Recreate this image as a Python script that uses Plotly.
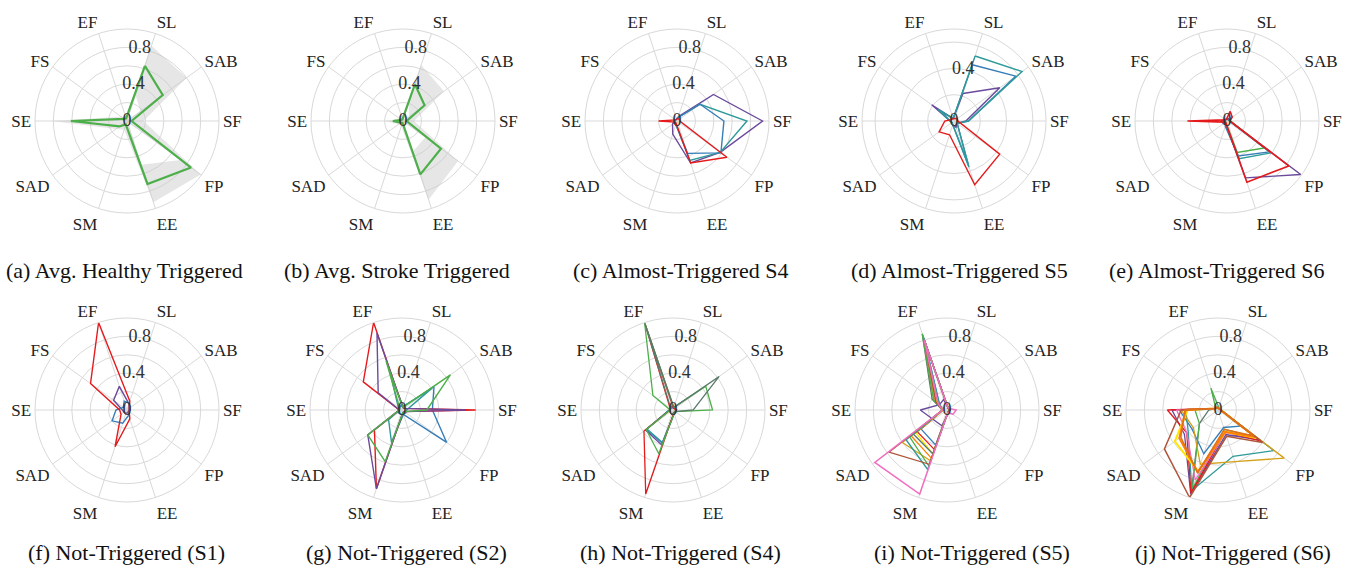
import plotly.graph_objects as go

# Spokes, listed clockwise starting from SL
CATEGORIES = ["SL", "SAB", "SF", "FP", "EE", "SM", "SAD", "SE", "FS", "EF"]
ANGLES = [36 * i for i in range(len(CATEGORIES))]   # degrees, clockwise from SL
LABEL_ANGLE = -8                                    # where the r labels sit

RED = "#e41a1c"
BLUE = "#377eb8"
GREEN = "#4daf4a"
PURPLE = "#6a4a9c"
TEAL = "#2f9a9a"
ORANGE = "#ff7f00"
YELLOW = "#ffe600"
BROWN = "#b0553a"
PINK = "#f070c0"
GOLD = "#d4a017"
SLATE = "#5a7a6a"
DKORANGE = "#e0701a"

# (a) average healthy, triggered: mean with spread band
a_mean = [0.63, 0.48, 0.05, 0.86, 0.72, 0.04, 0.10, 0.61, 0.04, 0.03]
a_upper = [0.86, 0.80, 0.18, 0.99, 0.93, 0.10, 0.15, 0.82, 0.08, 0.05]
a_lower = [0.30, 0.18, 0.00, 0.72, 0.50, 0.00, 0.02, 0.38, 0.00, 0.00]

# (b) average stroke, triggered
b_mean = [0.42, 0.29, 0.04, 0.51, 0.61, 0.02, 0.03, 0.11, 0.02, 0.02]
b_upper = [0.64, 0.55, 0.12, 0.74, 0.90, 0.06, 0.06, 0.20, 0.04, 0.04]
b_lower = [0.20, 0.08, 0.00, 0.30, 0.35, 0.00, 0.00, 0.02, 0.00, 0.00]

# (c) almost-triggered S4
c_purple = [0.05, 0.49, 0.93, 0.58, 0.48, 0.15, 0.06, 0.03, 0.02, 0.02]
c_teal = [0.04, 0.31, 0.76, 0.58, 0.45, 0.04, 0.03, 0.03, 0.02, 0.02]
c_blue = [0.04, 0.31, 0.51, 0.59, 0.37, 0.04, 0.03, 0.03, 0.02, 0.02]
c_red = [0.03, 0.03, 0.03, 0.67, 0.48, 0.03, 0.02, 0.20, 0.02, 0.02]

# (d) almost-triggered S5 (radial limit 0.7)
d_purple = [0.22, 0.43, 0.09, 0.03, 0.05, 0.03, 0.02, 0.03, 0.21, 0.02]
d_blue = [0.45, 0.58, 0.11, 0.03, 0.36, 0.03, 0.02, 0.03, 0.12, 0.02]
d_teal = [0.52, 0.64, 0.11, 0.03, 0.37, 0.03, 0.02, 0.03, 0.15, 0.02]
d_red = [0.02, 0.03, 0.03, 0.43, 0.51, 0.11, 0.14, 0.07, 0.02, 0.02]

# (e) almost-triggered S6
e_green = [0.02, 0.02, 0.04, 0.50, 0.36, 0.03, 0.02, 0.03, 0.02, 0.02]
e_blue = [0.02, 0.02, 0.03, 0.57, 0.40, 0.06, 0.02, 0.03, 0.02, 0.02]
e_teal = [0.02, 0.02, 0.03, 0.59, 0.43, 0.05, 0.02, 0.03, 0.02, 0.02]
e_purple = [0.03, 0.03, 0.03, 0.99, 0.65, 0.04, 0.05, 0.06, 0.03, 0.02]
e_red = [0.11, 0.07, 0.03, 0.83, 0.70, 0.03, 0.02, 0.43, 0.02, 0.02]

# (f) not-triggered S1
f_purple = [0.07, 0.03, 0.02, 0.02, 0.03, 0.04, 0.04, 0.05, 0.18, 0.27]
f_blue = [0.08, 0.04, 0.03, 0.03, 0.06, 0.15, 0.20, 0.12, 0.05, 0.10]
f_red = [0.10, 0.03, 0.03, 0.03, 0.10, 0.42, 0.08, 0.08, 0.49, 1.00]

# (g) not-triggered S2
g_blue = [0.04, 0.43, 0.33, 0.60, 0.05, 0.05, 0.05, 0.03, 0.03, 0.05]
g_teal = [0.04, 0.40, 0.05, 0.05, 0.05, 0.37, 0.18, 0.03, 0.05, 0.39]
g_red = [0.03, 0.03, 0.80, 0.03, 0.03, 0.90, 0.37, 0.03, 0.52, 1.00]
g_purple = [0.03, 0.03, 0.69, 0.03, 0.03, 0.90, 0.46, 0.03, 0.32, 0.88]
g_green = [0.03, 0.65, 0.27, 0.03, 0.03, 0.59, 0.46, 0.03, 0.03, 0.56]

# (h) not-triggered S4
h_blue = [0.02, 0.03, 0.03, 0.03, 0.04, 0.38, 0.36, 0.04, 0.03, 0.04]
h_purple = [0.02, 0.03, 0.03, 0.03, 0.04, 0.40, 0.37, 0.04, 0.03, 0.04]
h_teal = [0.02, 0.03, 0.03, 0.03, 0.04, 0.37, 0.35, 0.04, 0.03, 0.04]
h_red = [0.02, 0.02, 0.04, 0.03, 0.03, 0.96, 0.39, 0.03, 0.04, 0.98]
h_green = [0.03, 0.44, 0.43, 0.03, 0.04, 0.50, 0.36, 0.03, 0.27, 1.00]
h_slate = [0.03, 0.62, 0.22, 0.03, 0.03, 0.05, 0.04, 0.03, 0.03, 0.99]

# (i) not-triggered S5
i_purple = [0.03, 0.02, 0.03, 0.03, 0.04, 0.18, 0.18, 0.29, 0.10, 0.12]
i_blue = [0.03, 0.02, 0.03, 0.02, 0.03, 0.40, 0.35, 0.04, 0.10, 0.76]
i_red = [0.03, 0.02, 0.03, 0.02, 0.03, 0.45, 0.40, 0.04, 0.13, 0.80]
i_yellow = [0.03, 0.02, 0.03, 0.02, 0.03, 0.50, 0.42, 0.04, 0.14, 0.76]
i_orange = [0.03, 0.02, 0.03, 0.02, 0.03, 0.55, 0.48, 0.05, 0.15, 0.78]
i_gold = [0.03, 0.02, 0.03, 0.02, 0.03, 0.58, 0.60, 0.05, 0.17, 0.80]
i_slate = [0.03, 0.02, 0.03, 0.02, 0.03, 0.50, 0.45, 0.05, 0.20, 0.87]
i_green = [0.03, 0.02, 0.03, 0.02, 0.03, 0.64, 0.50, 0.05, 0.18, 0.87]
i_teal = [0.03, 0.02, 0.03, 0.02, 0.03, 0.68, 0.55, 0.05, 0.10, 0.82]
i_brown = [0.03, 0.02, 0.03, 0.02, 0.03, 0.62, 0.78, 0.05, 0.15, 0.80]
i_pink = [0.03, 0.03, 0.10, 0.08, 0.03, 0.96, 0.97, 0.05, 0.12, 0.80]

# (j) not-triggered S6
j_slate = [0.02, 0.02, 0.03, 0.45, 0.30, 0.94, 0.25, 0.10, 0.03, 0.03]
j_blue = [0.02, 0.02, 0.03, 0.30, 0.20, 0.50, 0.35, 0.42, 0.03, 0.03]
j_green = [0.03, 0.02, 0.03, 0.50, 0.22, 0.90, 0.25, 0.25, 0.03, 0.25]
j_teal = [0.02, 0.02, 0.03, 0.75, 0.53, 0.92, 0.40, 0.35, 0.03, 0.03]
j_gold = [0.02, 0.02, 0.03, 0.89, 0.59, 0.62, 0.33, 0.40, 0.03, 0.03]
j_purple = [0.02, 0.02, 0.03, 0.55, 0.28, 0.96, 0.45, 0.50, 0.03, 0.03]
j_red = [0.02, 0.02, 0.03, 0.57, 0.25, 0.95, 0.42, 0.55, 0.03, 0.03]
j_pink = [0.02, 0.02, 0.03, 0.50, 0.26, 0.80, 0.42, 0.45, 0.03, 0.03]
j_yellow = [0.02, 0.02, 0.03, 0.52, 0.25, 0.70, 0.58, 0.33, 0.03, 0.03]
j_orange = [0.02, 0.02, 0.03, 0.50, 0.25, 0.71, 0.52, 0.35, 0.03, 0.03]
j_brown = [0.02, 0.02, 0.03, 0.60, 0.30, 1.00, 0.72, 0.40, 0.03, 0.03]
j_dkorange = [0.02, 0.02, 0.03, 0.48, 0.22, 0.72, 0.50, 0.36, 0.03, 0.03]

CAPTIONS = [
    "(a) Avg. Healthy Triggered", "(b) Avg. Stroke Triggered",
    "(c) Almost-Triggered S4", "(d) Almost-Triggered S5",
    "(e) Almost-Triggered S6",
    "(f) Not-Triggered (S1)", "(g) Not-Triggered (S2)",
    "(h) Not-Triggered (S4)", "(i) Not-Triggered (S5)",
    "(j) Not-Triggered (S6)",
]
R_LABELS = [0.0, 0.4, 0.8]

W, H = 1361, 575
RADIUS = 92
CENTERS = [(127, 121), (403, 121), (677, 121), (954, 121), (1227, 121),
           (127, 410), (402, 410), (673, 410), (947, 410), (1218, 410)]
CAPTION_POS = [(124, 270), (397, 270), (681, 270), (959, 270), (1217, 270),
               (126, 552), (406, 552), (680, 552), (972, 552), (1233, 552)]

panels = [
    {"bands": [(a_upper, a_lower)], "lines": [(a_mean, GREEN, 2.2)], "rmax": 1.0},
    {"bands": [(b_upper, b_lower)], "lines": [(b_mean, GREEN, 2.2)], "rmax": 1.0},
    {"lines": [(c_purple, PURPLE, 1.4), (c_teal, TEAL, 1.4), (c_blue, BLUE, 1.4),
               (c_red, RED, 1.4)], "rmax": 1.0},
    {"lines": [(d_purple, PURPLE, 1.4), (d_blue, BLUE, 1.4), (d_teal, TEAL, 1.4),
               (d_red, RED, 1.4)], "rmax": 0.7},
    {"lines": [(e_green, GREEN, 1.4), (e_blue, BLUE, 1.4), (e_teal, TEAL, 1.4),
               (e_purple, PURPLE, 1.4), (e_red, RED, 1.6)], "rmax": 1.0},
    {"lines": [(f_purple, PURPLE, 1.4), (f_blue, BLUE, 1.4), (f_red, RED, 1.4)],
     "rmax": 1.0},
    {"lines": [(g_blue, BLUE, 1.4), (g_teal, TEAL, 1.4), (g_red, RED, 1.4),
               (g_purple, PURPLE, 1.4), (g_green, GREEN, 1.4)], "rmax": 1.0},
    {"lines": [(h_blue, BLUE, 1.3), (h_purple, PURPLE, 1.3), (h_teal, TEAL, 1.3),
               (h_red, RED, 1.3), (h_green, GREEN, 1.3), (h_slate, SLATE, 1.3)],
     "rmax": 1.0},
    {"lines": [(i_purple, PURPLE, 1.3), (i_blue, BLUE, 1.3), (i_red, RED, 1.3),
               (i_yellow, YELLOW, 1.3), (i_orange, ORANGE, 1.3), (i_gold, GOLD, 1.3),
               (i_slate, SLATE, 1.3), (i_green, GREEN, 1.3), (i_teal, TEAL, 1.3),
               (i_brown, BROWN, 1.3), (i_pink, PINK, 1.5)], "rmax": 1.0},
    {"lines": [(j_slate, SLATE, 1.3), (j_blue, BLUE, 1.3), (j_green, GREEN, 1.3),
               (j_teal, TEAL, 1.3), (j_gold, GOLD, 1.3), (j_purple, PURPLE, 1.3),
               (j_red, RED, 1.3), (j_pink, PINK, 1.3), (j_yellow, YELLOW, 2.0),
               (j_orange, ORANGE, 2.0), (j_brown, BROWN, 1.5),
               (j_dkorange, DKORANGE, 1.5)], "rmax": 1.0},
]

SERIF = "Liberation Serif"
GRID = "#d9d9d9"

fig = go.Figure()
layout = {}
closed = ANGLES + [ANGLES[0]]

for k, panel in enumerate(panels):
    name = "polar" if k == 0 else f"polar{k + 1}"
    sub = name
    rmax = panel["rmax"]

    for upper, lower in panel.get("bands", []):
        # outer loop clockwise, inner loop back the other way -> a ring
        theta = closed + [ANGLES[0]] + ANGLES[:0:-1] + [ANGLES[0]]
        r = list(upper) + [upper[0]] + [lower[0]] + list(lower[:0:-1]) + [lower[0]]
        fig.add_trace(go.Scatterpolar(
            r=r, theta=theta, mode="lines", fill="toself",
            fillcolor="rgba(200,200,200,0.45)", line=dict(width=0),
            subplot=sub, showlegend=False, hoverinfo="skip"))
    for values, color, width in panel["lines"]:
        fig.add_trace(go.Scatterpolar(
            r=list(values) + [values[0]], theta=closed, mode="lines",
            line=dict(color=color, width=width), subplot=sub, showlegend=False))

    # radial value labels, centred on their radius along one ray
    labels = [v for v in R_LABELS if v <= rmax]
    fig.add_trace(go.Scatterpolar(
        r=labels, theta=[LABEL_ANGLE] * len(labels), mode="text",
        text=["0" if v == 0 else f"{v:.1f}" for v in labels],
        textposition="middle center",
        textfont=dict(family=SERIF, size=18, color="#333333"),
        subplot=sub, showlegend=False, hoverinfo="skip"))

    cx, cy = CENTERS[k]
    gridvals = [v / 10 for v in range(0, int(round(rmax * 10)) + 1, 2)]
    layout[name] = dict(
        domain=dict(x=[(cx - RADIUS) / W, (cx + RADIUS) / W],
                    y=[1 - (cy + RADIUS) / H, 1 - (cy - RADIUS) / H]),
        bgcolor="white",
        angularaxis=dict(
            type="linear", thetaunit="degrees",
            tickmode="array", tickvals=ANGLES, ticktext=CATEGORIES,
            rotation=72, direction="clockwise",
            showline=True, linecolor=GRID, linewidth=1,
            gridcolor=GRID, gridwidth=1, ticks="",
            tickfont=dict(family=SERIF, size=17, color="#222222"),
        ),
        radialaxis=dict(
            range=[0, rmax], tickmode="array", tickvals=gridvals,
            showticklabels=False, showline=False,
            gridcolor=GRID, gridwidth=1, ticks="",
        ),
    )

annotations = []
for text, (x, y) in zip(CAPTIONS, CAPTION_POS):
    annotations.append(dict(
        text=text, x=x / W, y=1 - y / H, xref="paper", yref="paper",
        showarrow=False, xanchor="center", yanchor="middle",
        font=dict(family=SERIF, size=22, color="#111111")))

fig.update_layout(
    width=W, height=H, margin=dict(l=0, r=0, t=0, b=0),
    paper_bgcolor="white", plot_bgcolor="white", template="none",
    annotations=annotations, **layout)

fig.write_html("out.html")
